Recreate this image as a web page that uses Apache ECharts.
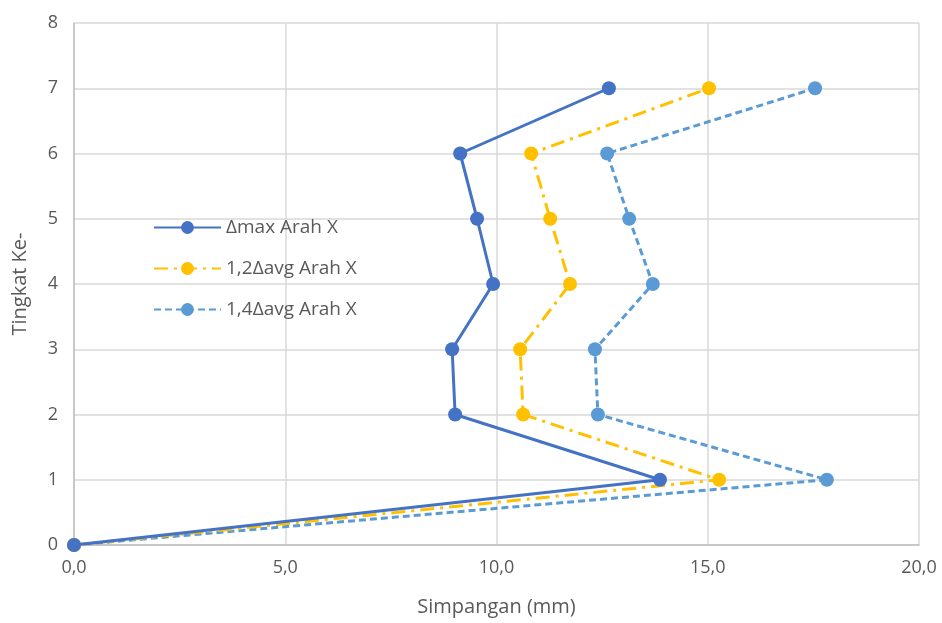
<!DOCTYPE html>
<html><head><meta charset="utf-8">
<script src="https://cdn.jsdelivr.net/npm/echarts@6/dist/echarts.min.js"></script>
<style>html,body{margin:0;padding:0;background:#fff}#c{width:942px;height:623px}</style>
</head><body><div id="c"></div>
<script>
const levels = [0, 1, 2, 3, 4, 5, 6, 7];
const dMax = [0, 13.87, 9.02, 8.95, 9.92, 9.54, 9.14, 12.66];
const d12 = [0, 15.27, 10.63, 10.56, 11.74, 11.27, 10.82, 15.03];
const d14 = [0, 17.82, 12.40, 12.33, 13.70, 13.14, 12.62, 17.54];
const names = ['Δmax Arah X', '1,2Δavg Arah X', '1,4Δavg Arah X'];
const xTitle = 'Simpangan (mm)';
const yTitle = 'Tingkat Ke-';

const pair = arr => arr.map((v, i) => [v, levels[i]]);
const font = 'Open Sans';
const chart = echarts.init(document.getElementById('c'));
chart.setOption({
  animation: false,
  textStyle: { fontFamily: font },
  grid: { left: 74, right: 23, top: 23, bottom: 78, containLabel: false },
  legend: {
    orient: 'vertical', left: 148, top: 213, itemGap: 22,
    itemWidth: 67, itemHeight: 16,
    textStyle: { fontFamily: font, fontSize: 19, color: '#595959' },
    data: names
  },
  xAxis: {
    type: 'value', min: 0, max: 20, interval: 5,
    name: xTitle, nameLocation: 'middle', nameGap: 52,
    nameTextStyle: { fontFamily: font, fontSize: 20, color: '#595959' },
    axisLine: { show: true, lineStyle: { color: '#BFBFBF', width: 1.5 } },
    axisTick: { show: false },
    axisLabel: { fontFamily: font, fontSize: 18, color: '#595959', margin: 14,
      formatter: v => v.toFixed(1).replace('.', ',') },
    splitLine: { show: true, lineStyle: { color: '#D9D9D9', width: 1.5 } }
  },
  yAxis: {
    type: 'value', min: 0, max: 8, interval: 1,
    name: yTitle, nameLocation: 'middle', nameGap: 44,
    nameTextStyle: { fontFamily: font, fontSize: 20, color: '#595959' },
    axisLine: { show: true, lineStyle: { color: '#BFBFBF', width: 1.5 } },
    axisTick: { show: false },
    axisLabel: { fontFamily: font, fontSize: 18, color: '#595959', margin: 16 },
    splitLine: { show: true, lineStyle: { color: '#D9D9D9', width: 1.5 } }
  },
  series: [
    { name: names[0], type: 'line', data: pair(dMax), symbol: 'circle', symbolSize: 14,
      itemStyle: { color: '#4472C4' }, lineStyle: { color: '#4472C4', width: 3 }, z: 5 },
    { name: names[1], type: 'line', data: pair(d12), symbol: 'circle', symbolSize: 14,
      itemStyle: { color: '#FFC000' }, lineStyle: { color: '#FFC000', width: 3, type: [14, 6, 3, 6] }, z: 4 },
    { name: names[2], type: 'line', data: pair(d14), symbol: 'circle', symbolSize: 14,
      itemStyle: { color: '#5B9BD5' }, lineStyle: { color: '#5B9BD5', width: 3, type: [7, 4] }, z: 3 }
  ]
});
</script></body></html>
